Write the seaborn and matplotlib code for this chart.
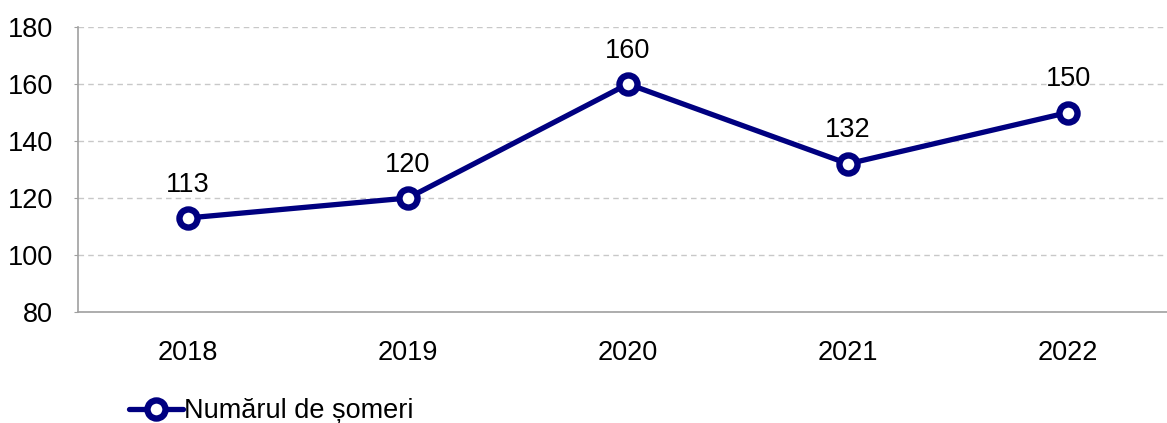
import matplotlib
matplotlib.use("Agg")
import matplotlib.pyplot as plt
import seaborn as sns
import pandas as pd

# Data
years = ["2018", "2019", "2020", "2021", "2022"]
unemployed = [113, 120, 160, 132, 150]
series_name = "Numărul de șomeri"

df = pd.DataFrame({"an": years, "valoare": unemployed})

sns.set_style("white")
plt.rcParams["font.family"] = ["Liberation Sans", "DejaVu Sans"]
plt.rcParams["text.color"] = "black"
plt.rcParams["xtick.color"] = "black"
plt.rcParams["ytick.color"] = "black"

navy = "#000080"
fs = 19.5
fig = plt.figure(figsize=(11.67, 4.23), dpi=100)
ax = fig.add_axes([78 / 1167, 1 - 312 / 423, 1100 / 1167, 285 / 423])

sns.lineplot(data=df, x="an", y="valoare", ax=ax, color=navy, linewidth=3.8,
             marker="o", markersize=13, markerfacecolor="white",
             markeredgecolor=navy, markeredgewidth=4.6, label=series_name,
             legend=False)

# Data labels
for i, v in enumerate(unemployed):
    ax.annotate(str(v), (i, v), xytext=(0, 24), textcoords="offset points",
                ha="center", va="center", fontsize=fs, color="black")

ax.set_xlim(-0.5, len(years) - 0.5)
ax.set_ylim(80, 180)
ax.set_yticks(range(80, 181, 20))
ax.set_xlabel("")
ax.set_ylabel("")

ax.yaxis.grid(True, linestyle=(0, (4, 3)), color="#c8c8c8", linewidth=1)
ax.set_axisbelow(True)

for side in ["top", "right"]:
    ax.spines[side].set_visible(False)
for side in ["left", "bottom"]:
    ax.spines[side].set_color("#a0a0a0")
    ax.spines[side].set_linewidth(1.2)

ax.set_xticks([i - 0.5 for i in range(len(years) + 1)], minor=True)
ax.tick_params(axis="x", which="minor", length=6, width=1, color="#a0a0a0",
               direction="out")
ax.tick_params(axis="x", which="major", length=0, pad=20, labelsize=fs,
               labelcolor="black")
ax.tick_params(axis="y", length=3, color="#a0a0a0", labelsize=fs, pad=15,
               left=True, labelcolor="black")

handles, labels = ax.get_legend_handles_labels()
leg = fig.legend(handles, labels, loc="center left",
                 bbox_to_anchor=(118 / 1167, 1 - 411 / 423), frameon=False,
                 fontsize=fs, handlelength=2.0, handletextpad=0.05,
                 borderaxespad=0)
for t in leg.get_texts():
    t.set_color("black")

fig.savefig("out.png", dpi=100)
